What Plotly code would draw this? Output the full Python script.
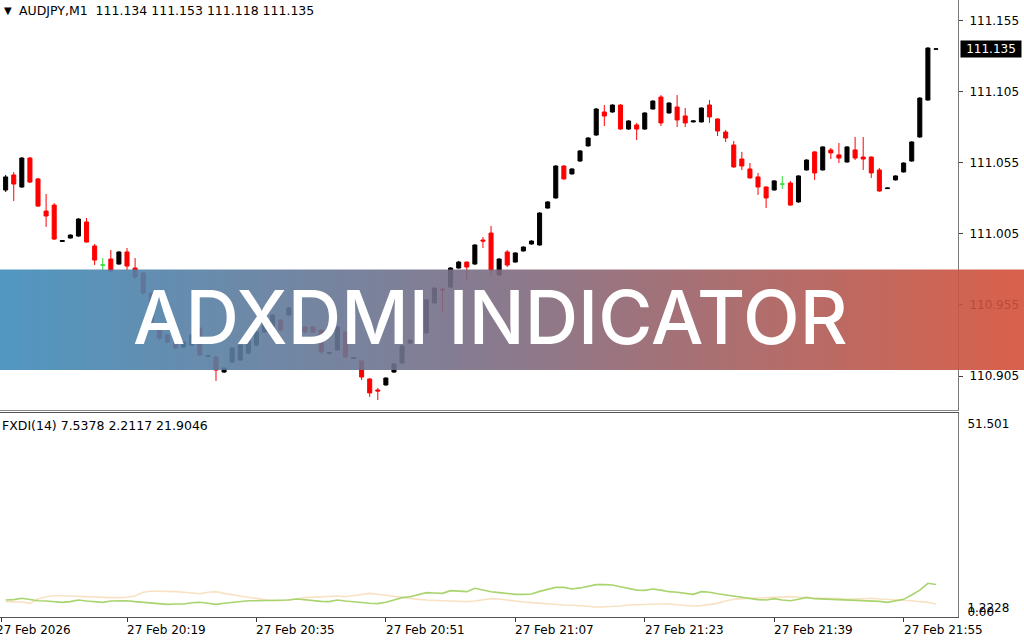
import plotly.graph_objects as go

W, H = 1024, 640

# ---------------- data ----------------
symbol_header = "AUDJPY,M1\u00a0\u00a0111.134 111.153 111.118 111.135"
indicator_header = "FXDI(14) 7.5378 2.2117 21.9046"
current_price = 111.135

# one bar per minute starting 27 Feb 20:04
opens = [111.0359,111.0465,111.0380,111.0584,111.0437,111.0211,111.0253,110.9997,111.0021,111.0035,
         111.0134,110.9965,110.9831,110.9873,110.9838,110.9923,110.9810,110.9775,110.9634,110.9388,
         110.9339,110.9303,110.9254,110.9268,110.9388,110.9189,110.9184,110.9078,110.9149,110.9163,
         110.9212,110.9268,110.9360,110.9395,110.9444,110.9479,110.9515,110.9395,110.9395,110.9374,
         110.9210,110.9233,110.9360,110.9175,110.9156,110.9029,110.8952,110.8987,110.9078,110.9142,
         110.9282,110.9289,110.9353,110.9564,110.9662,110.9676,110.9810,110.9852,110.9838,111.0007,
         111.0056,110.9761,110.9923,110.9852,110.9930,110.9979,110.9972,111.0232,111.0303,111.0528,
         111.0472,111.0563,111.0669,111.0746,111.0908,111.0908,111.0957,111.0788,111.0817,111.0788,
         111.0929,111.1013,111.0901,111.0943,111.0880,111.0838,111.0838,111.0957,111.0859,111.0767,
         111.0676,111.0577,111.0507,111.0451,111.0380,111.0359,111.0401,111.0408,111.0275,111.0500,
         111.0627,111.0500,111.0641,111.0606,111.0556,111.0641,111.0591,111.0591,111.0500,111.0369,
         111.0430,111.0486,111.0563,111.0732,111.0992,111.1350]
highs = [111.0465,111.0486,111.0590,111.0591,111.0444,111.0331,111.0267,111.0005,111.0046,111.0160,
         111.0162,110.9979,110.9880,110.9937,110.9928,110.9951,110.9880,110.9782,110.9640,110.9395,
         110.9345,110.9310,110.9295,110.9345,110.9395,110.9195,110.9190,110.9110,110.9252,110.9275,
         110.9310,110.9365,110.9450,110.9485,110.9450,110.9535,110.9520,110.9400,110.9400,110.9380,
         110.9216,110.9400,110.9365,110.9181,110.9162,110.9035,110.8966,110.9040,110.9140,110.9267,
         110.9307,110.9307,110.9590,110.9675,110.9669,110.9815,110.9860,110.9855,110.9978,111.0028,
         111.0106,110.9880,110.9937,110.9920,110.9962,111.0005,111.0202,111.0280,111.0533,111.0533,
         111.0512,111.0640,111.0730,111.0935,111.0957,111.0962,111.0962,111.0850,111.0831,111.0906,
         111.0990,111.1027,111.0976,111.1027,111.0936,111.0848,111.0940,111.0992,111.0863,111.0781,
         111.0704,111.0627,111.0549,111.0479,111.0385,111.0428,111.0458,111.0423,111.0463,111.0575,
         111.0632,111.0667,111.0655,111.0690,111.0667,111.0732,111.0732,111.0596,111.0514,111.0375,
         111.0462,111.0553,111.0702,111.1011,111.1363,111.1354]
lows = [111.0345,111.0282,111.0375,111.0408,111.0240,111.0099,111.0007,110.9995,111.0018,111.0030,
        110.9988,110.9831,110.9796,110.9782,110.9833,110.9796,110.9733,110.9620,110.9380,110.9300,
        110.9280,110.9240,110.9250,110.9262,110.9190,110.9187,110.9015,110.9072,110.9140,110.9155,
        110.9205,110.9262,110.9355,110.9390,110.9365,110.9475,110.9400,110.9355,110.9355,110.9210,
        110.9208,110.9230,110.9178,110.9173,110.9022,110.8903,110.8881,110.8983,110.9072,110.9135,
        110.9278,110.9285,110.9350,110.9560,110.9494,110.9670,110.9805,110.9726,110.9833,110.9951,
        110.9761,110.9755,110.9817,110.9848,110.9927,110.9975,110.9968,111.0228,111.0298,111.0432,
        111.0468,111.0558,111.0665,111.0740,111.0809,111.0903,111.0783,111.0783,111.0711,111.0783,
        111.0925,111.0809,111.0897,111.0802,111.0802,111.0835,111.0834,111.0831,111.0739,111.0697,
        111.0516,111.0500,111.0440,111.0324,111.0232,111.0355,111.0366,111.0248,111.0270,111.0496,
        111.0430,111.0496,111.0577,111.0549,111.0552,111.0570,111.0500,111.0444,111.0347,111.0366,
        111.0426,111.0482,111.0558,111.0727,111.0988,111.1348]
closes = [111.0451,111.0401,111.0584,111.0415,111.0246,111.0176,111.0014,111.0003,111.0042,111.0155,
          110.9993,110.9866,110.9831,110.9789,110.9923,110.9824,110.9747,110.9634,110.9388,110.9317,
          110.9289,110.9247,110.9289,110.9339,110.9198,110.9193,110.9092,110.9106,110.9247,110.9268,
          110.9303,110.9360,110.9444,110.9479,110.9374,110.9529,110.9409,110.9360,110.9360,110.9219,
          110.9214,110.9395,110.9184,110.9179,110.9043,110.8931,110.8945,110.9036,110.9135,110.9261,
          110.9303,110.9303,110.9585,110.9669,110.9655,110.9810,110.9852,110.9817,110.9972,111.0000,
          110.9796,110.9873,110.9831,110.9916,110.9958,111.0000,111.0197,111.0275,111.0528,111.0437,
          111.0507,111.0634,111.0725,111.0929,111.0880,111.0957,111.0788,111.0845,111.0788,111.0901,
          111.0985,111.0831,111.0971,111.0852,111.0831,111.0845,111.0936,111.0873,111.0774,111.0725,
          111.0521,111.0528,111.0444,111.0380,111.0303,111.0423,111.0401,111.0253,111.0458,111.0570,
          111.0479,111.0662,111.0620,111.0584,111.0662,111.0584,111.0577,111.0479,111.0352,111.0373,
          111.0458,111.0549,111.0697,111.1006,111.1358,111.1352]

plus_di = [3.29,3.4,3.75,3.4,3.1,3.0,2.85,2.65,2.85,3.29,
           3.0,2.75,2.65,3.0,3.1,3.1,2.85,2.65,2.55,2.3,
           2.1,2.2,2.2,2.55,2.65,2.4,2.1,2.4,2.65,2.85,
           3.1,3.1,3.1,3.2,3.29,3.29,3.56,3.29,3.0,2.9,
           2.85,3.29,3.0,2.75,2.55,2.4,2.3,2.65,3.29,3.93,
           4.2,4.84,5.3,5.2,5.1,5.84,5.65,5.57,6.48,6.0,
           5.57,5.3,5.0,4.84,4.84,4.93,5.65,6.2,6.75,6.75,
           6.3,6.6,7.1,7.5,7.5,7.4,6.93,6.4,6.0,5.93,
           6.3,6.0,5.57,5.39,5.1,4.84,5.57,5.39,5.0,4.66,
           4.3,3.93,3.65,3.38,3.29,3.65,3.29,3.1,3.47,4.0,
           3.65,3.56,3.47,3.47,3.29,3.1,3.1,3.1,2.9,2.65,
           3.0,3.47,4.66,6.0,7.86,7.54]
minus_di = [2.83,2.83,2.75,2.37,3.56,4.2,4.47,4.47,4.38,4.2,
            4.1,3.93,3.93,3.93,3.93,4.02,4.38,5.39,5.75,5.75,
            5.75,5.57,5.39,5.11,5.0,5.39,5.57,5.11,4.84,4.38,
            4.02,3.65,3.29,3.1,3.1,3.29,3.65,3.93,4.02,4.02,
            4.2,4.38,4.2,4.47,4.93,5.11,4.84,4.56,4.2,4.02,
            3.75,3.47,3.29,3.29,3.1,3.01,2.83,2.83,3.01,3.29,
            3.65,3.56,3.29,2.83,2.75,2.56,2.37,2.19,2.0,1.92,
            1.83,1.74,1.56,1.29,1.37,1.46,1.64,1.92,2.0,2.1,
            2.19,2.37,2.28,2.0,1.83,1.64,1.74,2.0,2.37,3.01,
            3.47,3.65,3.75,3.84,3.93,4.02,4.1,4.2,4.02,3.84,
            3.75,3.75,3.75,3.65,3.47,3.56,3.75,3.75,3.56,3.47,
            3.29,3.2,3.1,2.83,2.65,2.21]

price_ticks = [110.905, 110.955, 111.005, 111.055, 111.105, 111.155]
ind_ticks = [0.0, 1.2228, 51.501]
ind_ticktext = ["0.00", "1.2228", "51.501"]
time_tick_bars = [-0.49, 15, 31, 47, 63, 79, 95, 111]
time_tick_text = ["27 Feb 2026", "27 Feb 20:19", "27 Feb 20:35", "27 Feb 20:51",
                  "27 Feb 21:07", "27 Feb 21:23", "27 Feb 21:39", "27 Feb 21:55"]
banner_text = "ADXDMI INDICATOR"

# ---------------- figure ----------------
bars = list(range(len(opens)))
normal = [i for i in bars if opens[i] != closes[i]]
doji = [i for i in bars if opens[i] == closes[i]]

FONT = "DejaVu Sans"
fig = go.Figure()
fig.add_trace(go.Candlestick(
    x=normal, open=[opens[i] for i in normal], high=[highs[i] for i in normal],
    low=[lows[i] for i in normal], close=[closes[i] for i in normal],
    increasing=dict(line=dict(color="#000000", width=1), fillcolor="#000000"),
    decreasing=dict(line=dict(color="#ff0000", width=1), fillcolor="#ff0000"),
    whiskerwidth=0, xaxis="x", yaxis="y", showlegend=False, hoverinfo="skip"))
fig.add_trace(go.Candlestick(
    x=doji, open=[opens[i] for i in doji], high=[highs[i] for i in doji],
    low=[lows[i] for i in doji], close=[closes[i] for i in doji],
    increasing=dict(line=dict(color="#33dd33", width=1), fillcolor="#33dd33"),
    decreasing=dict(line=dict(color="#33dd33", width=1), fillcolor="#33dd33"),
    whiskerwidth=0, xaxis="x", yaxis="y", showlegend=False, hoverinfo="skip"))

fig.add_trace(go.Scatter(x=bars, y=minus_di, mode="lines", xaxis="x2", yaxis="y2",
                         line=dict(color="#f8e2c4", width=1.6), showlegend=False, hoverinfo="skip"))
fig.add_trace(go.Scatter(x=bars, y=plus_di, mode="lines", xaxis="x2", yaxis="y2",
                         line=dict(color="#a9d46e", width=1.6), showlegend=False, hoverinfo="skip"))

def px(x):
    return x / W

def py(y):
    return 1 - y / H

xdom = [0, px(958)]
xrange = [-0.698, 117.72]
main_dom = [py(410), 1]
ind_dom = [py(617), py(412.5)]

fig.update_layout(
    width=W, height=H, margin=dict(l=0, r=0, t=0, b=0, autoexpand=False),
    paper_bgcolor="white", plot_bgcolor="white",
    font=dict(family=FONT, size=12, color="black"),
    boxgap=0.5, boxgroupgap=0,
    xaxis=dict(domain=xdom, range=xrange, showticklabels=False, showgrid=False,
               zeroline=False, showline=True, linecolor="#8a8a8a", linewidth=1,
               rangeslider=dict(visible=False), fixedrange=True),
    yaxis=dict(domain=main_dom, range=[110.8811, 111.1696], side="right",
               tickvals=price_ticks, ticktext=[f"{v:.3f}" for v in price_ticks],
               ticks="outside", ticklen=4, tickcolor="#444", ticklabelstandoff=4,
               showgrid=False, zeroline=False, showline=True, linecolor="#7a7a7a",
               linewidth=1, anchor="x"),
    xaxis2=dict(domain=xdom, range=xrange, anchor="y2", tickvals=time_tick_bars,
                showticklabels=False, ticks="outside", ticklen=4, tickcolor="#333",
                showgrid=False, zeroline=False, showline=True, mirror=True,
                linecolor="#555555", linewidth=1),
    yaxis2=dict(domain=ind_dom, range=[-1.370, 54.651], side="right", anchor="x2",
                tickvals=ind_ticks, ticktext=ind_ticktext, ticks="", ticklabelstandoff=6,
                showgrid=False, zeroline=False, showline=True, linecolor="#7a7a7a",
                linewidth=1),
)

# gradient banner built from narrow strips
stops = [(0.0, (62, 140, 186)), (0.5, (126, 107, 128)), (1.0, (212, 80, 56))]
def grad(t):
    for (t0, c0), (t1, c1) in zip(stops[:-1], stops[1:]):
        if t0 <= t <= t1:
            f = (t - t0) / (t1 - t0)
            return tuple(round(a + (b - a) * f) for a, b in zip(c0, c1))
    return stops[-1][1]

N = 128
shapes = []
for k in range(N):
    r, g, b = grad((k + 0.5) / N)
    shapes.append(dict(type="rect", xref="paper", yref="paper", x0=k / N, x1=(k + 1) / N,
                       y0=py(370), y1=py(269.5), fillcolor=f"rgba({r},{g},{b},0.9)",
                       line=dict(width=0), layer="above"))
fig.update_layout(shapes=shapes)

ann = []
ann.append(dict(text="\u25bc", xref="paper", yref="paper", x=px(2), y=py(10),
                xanchor="left", yanchor="middle", showarrow=False,
                font=dict(family=FONT, size=10, color="black")))
ann.append(dict(text=symbol_header, xref="paper", yref="paper", x=px(17), y=py(10),
                xanchor="left", yanchor="middle", showarrow=False,
                font=dict(family=FONT, size=12.5, color="black")))
ann.append(dict(text=indicator_header, xref="paper", yref="paper", x=px(0), y=py(425),
                xanchor="left", yanchor="middle", showarrow=False,
                font=dict(family=FONT, size=12.5, color="black")))
for i, (pos, txt) in enumerate(zip(time_tick_bars, time_tick_text)):
    if i == 0:
        ann.append(dict(text=txt, xref="paper", yref="paper", x=px(-6), y=py(630),
                        xanchor="left", yanchor="middle", showarrow=False,
                        font=dict(family=FONT, size=12, color="black")))
    else:
        ann.append(dict(text=txt, xref="x2", yref="paper", x=pos, y=py(630),
                        xanchor="left", yanchor="middle", showarrow=False, xshift=-2,
                        font=dict(family=FONT, size=12, color="black")))
ann.append(dict(text=f"{current_price:.3f}", xref="paper", yref="y", x=px(960), y=current_price,
                xanchor="left", yanchor="middle", showarrow=False, bgcolor="black",
                width=58, height=14, borderpad=1,
                font=dict(family=FONT, size=12, color="white")))
ann.append(dict(text=banner_text, xref="paper", yref="paper", x=px(490), y=py(317),
                xanchor="center", yanchor="middle", showarrow=False,
                font=dict(family="Inter", size=74, color="white", weight=500)))
fig.update_layout(annotations=ann)

fig.write_html("out.html", config={"displayModeBar": False},
               post_script="document.body.style.margin='0';document.body.style.overflow='hidden';")
